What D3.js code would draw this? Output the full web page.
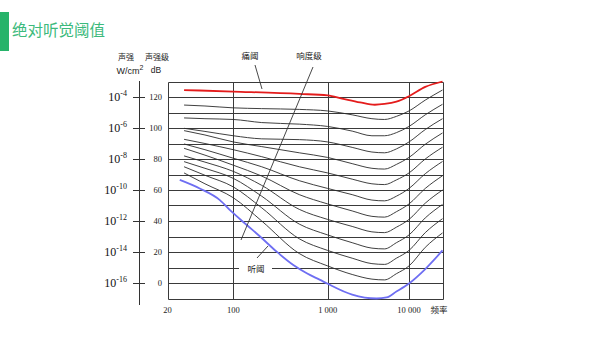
<!DOCTYPE html>
<html>
<head>
<meta charset="utf-8">
<script src="https://cdn.jsdelivr.net/npm/d3@7"></script>
<style>
  html, body { margin: 0; padding: 0; background: #fff; }
  svg { display: block; }
</style>
</head>
<body>
<svg id="chart" width="604" height="340"></svg>
<script>
// Equal-loudness contours: frequency (Hz) vs sound level (dB)

// Axis ticks
const freqTicks = [20, 100, 1000, 10000];
const freqTickLabels = ["20", "100", "1 000", "10 000"];
const dbTicks = [0, 20, 40, 60, 80, 100, 120];
const intensityExponents = ["-16", "-14", "-12", "-10", "-8", "-6", "-4"];
const gridLevels = [-10, 0, 10, 20, 30, 40, 50, 60, 70, 80, 90, 100, 110, 120, 130];

// Threshold of pain (dB at each frequency)
const painCurve = [
  [30, 124.5], [100, 123.5], [500, 122], [1000, 121], [1500, 119], [2500, 116.5],
  [3800, 115], [5000, 115.5], [7000, 117], [10000, 120.5], [14000, 126.5], [20000, 130]
];

// Threshold of hearing
const hearingCurve = [
  [27, 66.5], [44, 61], [72, 53.5], [96, 46], [139, 37.4], [192, 30], [288, 20.2],
  [432, 11.6], [600, 6.3], [830, 2], [1000, -0.5], [2000, -7.5], [4000, -10],
  [5300, -9.3], [7000, -5.5], [10000, -0.3], [14000, 9], [20000, 21]
];

// Loudness-level contours between the two thresholds
const contourFreqs = [30, 50, 100, 200, 500, 1000, 2000, 3500, 5000, 7000, 10000, 14000, 20000];
const contourLevels = [110, 100, 90, 80, 70, 60, 50, 40, 30, 20, 10];
const contourValues = [
  [114.8, 114.2, 113, 112.5, 112, 111, 108.5, 106, 105.5, 107.5, 111, 118, 124.5],
  [106.5, 106, 105.5, 103.5, 102.5, 101, 98, 95, 95, 97, 101, 108.5, 115.3],
  [99.8, 97.8, 95, 93, 92.5, 91, 87.5, 84.5, 84, 86.5, 91, 99, 106],
  [98.3, 95.5, 91, 88, 84, 81, 77, 74, 73.5, 76.5, 81, 89.5, 96.8],
  [92.7, 90, 86, 81.5, 75, 71, 67, 64, 63.5, 66.5, 71, 80, 87.6],
  [89.7, 86, 80.5, 75, 66, 61, 57, 53.5, 53, 56, 61, 70.5, 78.4],
  [86.9, 82.5, 76, 69, 57, 51, 46.5, 43, 42.5, 46, 51, 61, 69.2],
  [82, 78, 72, 63, 47.5, 41, 36.5, 33, 32.5, 36, 41, 51.5, 60],
  [78.3, 74, 67.5, 56, 38, 31, 26, 22.5, 22, 26, 31, 42, 50.7],
  [75, 69.5, 62, 48.5, 28.5, 21, 16, 12.5, 12, 16, 21, 32.5, 41.5],
  [71, 64, 55, 40, 19, 11, 5.5, 2.5, 2, 6, 11, 23, 32.3]
];

const svg = d3.select("#chart");

// Title block
svg.append("rect").attr("x", 0).attr("y", 12).attr("width", 9).attr("height", 39).attr("fill", "#27b36a");
svg.append("text").attr("x", 12).attr("y", 36)
  .attr("font-family", "'Noto Sans CJK SC', sans-serif").attr("font-size", 15.5)
  .attr("fill", "#3cba7c").text("绝对听觉阈值");

// Scales
const x = d3.scaleLog().domain([20, 100, 1000, 10000, 20000]).range([167.5, 233.3, 327.7, 409, 442.5]);
const y = d3.scaleLinear().domain([-10, 130]).range([298.5, 81.5]);
const px = v => Math.round(v) + 0.5;

const plot = svg.append("g");

// Horizontal grid, every 10 dB
plot.append("g").selectAll("line").data(gridLevels).join("line")
  .attr("x1", px(x(20))).attr("x2", px(x(20000)))
  .attr("y1", d => px(y(d))).attr("y2", d => px(y(d)))
  .attr("stroke", "#3a3a3a").attr("stroke-width", 1);

// Vertical grid at decades and frame edges
plot.append("g").selectAll("line").data([20, 100, 1000, 10000, 20000]).join("line")
  .attr("x1", d => px(x(d))).attr("x2", d => px(x(d)))
  .attr("y1", px(y(130))).attr("y2", px(y(-10)))
  .attr("stroke", "#3a3a3a").attr("stroke-width", 1);

const line = d3.line().x(d => x(d[0])).y(d => y(d[1])).curve(d3.curveMonotoneX);

// Loudness contours
plot.append("g").selectAll("path").data(contourValues).join("path")
  .attr("d", vals => line(vals.map((v, i) => [contourFreqs[i], v])))
  .attr("fill", "none").attr("stroke", "#2a2a2a").attr("stroke-width", 0.9);

// Pain and hearing thresholds
plot.append("path").attr("d", line(painCurve))
  .attr("fill", "none").attr("stroke", "#e41c1c").attr("stroke-width", 1.8);
plot.append("path").attr("d", line(hearingCurve))
  .attr("fill", "none").attr("stroke", "#6e6ef2").attr("stroke-width", 1.8);

// Left axis: intensity and level
const axisX = 139.5;
svg.append("line").attr("x1", axisX).attr("x2", axisX).attr("y1", 81).attr("y2", 305)
  .attr("stroke", "#333").attr("stroke-width", 1);
svg.append("g").selectAll("line").data(dbTicks).join("line")
  .attr("x1", 133).attr("x2", 145).attr("y1", d => px(y(d))).attr("y2", d => px(y(d)))
  .attr("stroke", "#333").attr("stroke-width", 1);

const serif = "'Liberation Serif', 'Times New Roman', serif";
const intensity = svg.append("g").selectAll("text").data(dbTicks).join("text")
  .attr("x", 127).attr("y", d => y(d) + 4)
  .attr("text-anchor", "end").attr("font-family", serif).attr("font-size", 12).attr("fill", "#111");
intensity.append("tspan").text("10");
intensity.append("tspan").attr("dy", -5).attr("font-size", 8).text((d, i) => intensityExponents[i]);

svg.append("g").selectAll("text").data(dbTicks).join("text")
  .attr("x", 162).attr("y", d => y(d) + 3)
  .attr("text-anchor", "end").attr("font-family", serif).attr("font-size", 8.5).attr("fill", "#222")
  .text(d => d);

// Bottom axis labels
svg.append("g").selectAll("text").data(freqTicks).join("text")
  .attr("x", d => x(d)).attr("y", 313)
  .attr("text-anchor", "middle").attr("font-family", serif).attr("font-size", 8.5).attr("fill", "#222")
  .text((d, i) => freqTickLabels[i]);

const cjk = "'Noto Sans CJK SC', sans-serif";
svg.append("text").attr("x", 439).attr("y", 313).attr("text-anchor", "middle")
  .attr("font-family", cjk).attr("font-size", 8.5).attr("fill", "#222").text("频率");

// Axis headers
svg.append("text").attr("x", 126).attr("y", 60).attr("text-anchor", "middle")
  .attr("font-family", cjk).attr("font-size", 8).attr("fill", "#222").text("声强");
svg.append("text").attr("x", 130).attr("y", 74).attr("text-anchor", "middle")
  .attr("font-family", "'Liberation Sans', Arial, sans-serif").attr("font-size", 9).attr("fill", "#222")
  .html('W/cm<tspan dy="-4" font-size="7">2</tspan>');
svg.append("text").attr("x", 157).attr("y", 60).attr("text-anchor", "middle")
  .attr("font-family", cjk).attr("font-size", 8).attr("fill", "#222").text("声强级");
svg.append("text").attr("x", 156).attr("y", 73).attr("text-anchor", "middle")
  .attr("font-family", "'Liberation Sans', Arial, sans-serif").attr("font-size", 8.5).attr("fill", "#222").text("dB");

// Annotations with leader lines
const leaders = [
  { text: "痛阈", tx: 250, ty: 59, x1: 255, y1: 65, x2: 262, y2: 89 },
  { text: "响度级", tx: 309, ty: 59, x1: 313, y1: 67, x2: 241, y2: 240 },
  { text: "听阈", tx: 256, ty: 272, x1: 268, y1: 246, x2: 257, y2: 258 }
];
const ann = svg.append("g");
ann.append("rect").attr("x", 239).attr("y", y(10) - 6).attr("width", 33).attr("height", 12).attr("fill", "#fff");
ann.selectAll("line").data(leaders).join("line")
  .attr("x1", d => d.x1).attr("y1", d => d.y1).attr("x2", d => d.x2).attr("y2", d => d.y2)
  .attr("stroke", "#333").attr("stroke-width", 0.9);
ann.selectAll("text").data(leaders).join("text")
  .attr("x", d => d.tx).attr("y", d => d.ty).attr("text-anchor", "middle")
  .attr("font-family", cjk).attr("font-size", 8.5).attr("fill", "#222")
  .text(d => d.text);
</script>
</body>
</html>
